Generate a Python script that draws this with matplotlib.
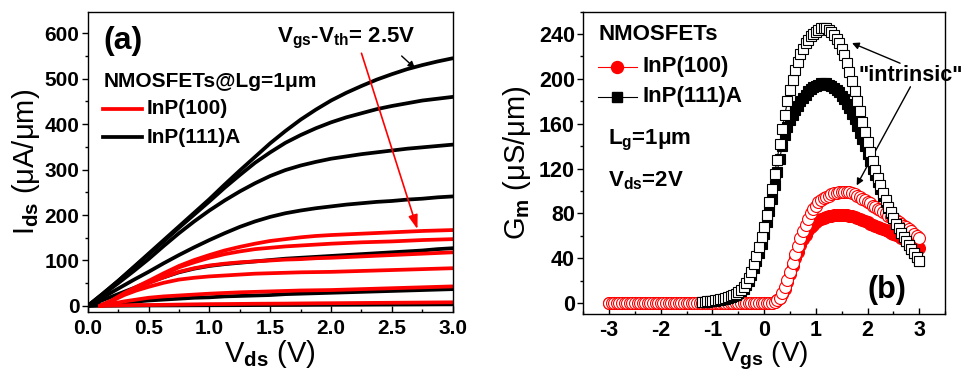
import numpy as np
import matplotlib
matplotlib.use("Agg")
import matplotlib.pyplot as plt
from matplotlib.ticker import MultipleLocator

plt.rcParams.update({
    "font.family": ["Liberation Sans", "DejaVu Sans"],
    "font.weight": "bold",
    "mathtext.fontset": "custom",
    "mathtext.rm": "Liberation Sans:bold",
    "mathtext.it": "Liberation Sans:bold",
    "mathtext.bf": "Liberation Sans:bold",
    "axes.linewidth": 1.0,
    "axes.unicode_minus": False,
})

# ---------------- (a) output characteristics ----------------
vds_111 = [0, 0.125, 0.25, 0.375, 0.5, 0.625, 0.75, 0.875, 1.0, 1.125, 1.25,
           1.375, 1.5, 1.625, 1.75, 1.875, 2.0, 2.125, 2.25, 2.375, 2.5,
           2.625, 2.75, 2.875, 3.0]
ids_111 = [
    [0, 27, 55, 85, 115, 145, 175, 205, 235, 267, 298, 328, 358, 385, 410,
     432, 452, 469, 484, 498, 510, 521, 530, 538, 545],
    [0, 27, 55, 84, 113, 142, 172, 201, 230, 260, 288, 315, 338, 359, 376,
     391, 404, 415, 424, 433, 440, 446, 452, 456, 460],
    [0, 25, 50, 76, 103, 132, 160, 186, 210, 232, 252, 270, 286, 299, 309,
     317, 324, 329, 334, 338, 342, 346, 349, 352, 355],
    [0, 19, 38, 57, 75, 94, 112, 129, 145, 160, 174, 186, 196, 204, 210,
     215, 219, 223, 226, 229, 231, 234, 236, 239, 241],
    [0, 13, 26, 39, 52, 63, 74, 82, 88, 92, 95, 98, 101, 104, 106, 108, 110,
     112, 114, 116, 118, 120, 122, 125, 127],
    [0, 3, 6, 9, 12, 14, 16, 18, 19, 21, 22, 23, 24, 26, 27, 28, 29, 30, 31,
     32, 33, 34, 35, 36, 37],
    [0, 0.3, 0.5, 0.7, 1, 1.1, 1.2, 1.4, 1.5, 1.6, 1.7, 1.9, 2, 2.1, 2.2, 2.4,
     2.5, 2.6, 2.7, 2.9, 3, 3.1, 3.2, 3.4, 3.5],
]
vds_100 = [0.1, 0.2, 0.3, 0.4, 0.5, 0.625, 0.75, 0.875, 1.0, 1.125, 1.25,
           1.375, 1.5, 1.625, 1.75, 1.875, 2.0, 2.25, 2.5, 2.75, 3.0]
ids_100 = [
    [0, 12, 28, 42, 55, 72, 88, 101, 112, 122, 130, 137, 143, 147, 151, 154,
     156, 159, 162, 165, 167],
    [0, 12, 28, 41, 53, 69, 85, 96, 106, 114, 120, 125, 128, 131, 133, 135,
     137, 140, 142, 145, 147],
    [0, 12, 27, 39, 50, 63, 75, 83, 89, 93, 96, 98, 100, 102, 103, 105, 106,
     109, 112, 115, 118],
    [0, 11, 24, 34, 42, 51, 58, 62, 65, 67, 69, 71, 72, 73, 74, 74.5, 75, 77,
     79, 81, 83],
    [0, 5, 10, 14, 18, 21, 23, 25, 27, 28.5, 30, 31, 32, 33, 34, 34.5, 35, 37,
     39, 41, 43],
    [0, 1, 1.5, 2, 2, 2.5, 3, 3.5, 4, 4.2, 4.5, 4.8, 5, 5.2, 5.5, 5.8, 6, 6.5,
     7, 7.5, 8],
]

# ---------------- (b) transconductance ----------------
vgs_100 = np.round(np.arange(-3.0, 3.0001, 0.05), 2)
gm_100_ext = (
    [0.0] * 63 +
    [0.3, 1, 2.5, 5, 8.5, 13, 19, 26, 33, 40, 46, 52, 57, 61, 65, 68, 70, 72,
     74, 75, 76, 77, 78, 78, 79, 79, 79, 79, 79, 79, 78, 78, 77, 76, 75, 74,
     73, 72, 71, 70, 69, 68, 67, 66, 65, 64, 63, 62, 61, 60, 58, 57, 56, 55,
     53, 52, 50, 49]
)
gm_100_int = (
    [0.0] * 63 +
    [0.3, 1, 2.5, 5, 9, 14, 21, 28, 36, 44, 51, 58, 64, 70, 75, 80, 84, 87,
     90, 92, 94, 95, 96, 97, 98, 98, 99, 99, 99, 99, 99, 98, 97, 96, 95, 93,
     92, 90, 89, 87, 86, 84, 83, 81, 80, 78, 77, 75, 74, 72, 71, 69, 68, 66,
     64, 62, 60, 58]
)
vgs_111 = np.round(np.arange(-1.2, 3.0001, 0.05), 2)
gm_111_ext = [
    0.8, 1.0, 1.2, 1.5, 1.8, 2.1, 2.5, 3.0, 3.5, 4.0, 4.7, 5.4, 6.2, 7.4, 8.8,
    10.5, 12.5, 16, 20, 25, 31, 38, 45, 53, 62, 72, 82, 93, 105, 117, 129, 140,
    150, 157, 163, 168, 172, 176, 180, 183, 186, 189, 191, 193, 194, 195, 196,
    196, 196, 195, 194, 192, 190, 188, 185, 182, 178, 174, 169, 164, 158, 152,
    146, 140, 133, 127, 120, 114, 108, 102, 96, 90, 85, 80, 76, 71, 67, 63, 59,
    55, 52, 48, 45, 41, 38,
]
gm_111_int = [
    1.0, 1.2, 1.5, 1.8, 2.2, 2.6, 3.0, 3.5, 4.0, 4.7, 5.5, 6.3, 7.2, 8.5, 10,
    12, 14, 18, 22, 28, 35, 42, 50, 59, 68, 79, 90, 102, 115, 128, 142, 155,
    168, 180, 190, 199, 208, 215, 222, 227, 232, 235, 238, 240, 242, 244, 245,
    245, 245, 244, 242, 239, 236, 232, 227, 221, 214, 206, 198, 189, 180, 171,
    162, 153, 144, 135, 127, 119, 112, 105, 98, 92, 86, 81, 76, 71, 67, 63, 59,
    55, 52, 48, 45, 41, 38,
]

RED = "#ff0000"
BLACK = "#000000"
SQ = 6.8
CI = 8.6

fig = plt.figure(figsize=(9.67, 3.76), dpi=100)

# ================= panel (a) =================
axa = fig.add_axes([0.0907, 0.1694, 0.3775, 0.7977])
for curve in ids_111:
    axa.plot(vds_111, curve, color=BLACK, lw=2.7, solid_capstyle="round",
             solid_joinstyle="round")
for curve in ids_100:
    axa.plot(vds_100, curve, color=RED, lw=2.7, solid_capstyle="round",
             solid_joinstyle="round")

axa.set_xlim(0, 3.0)
axa.set_ylim(-14, 646)
axa.xaxis.set_major_locator(MultipleLocator(0.5))
axa.xaxis.set_minor_locator(MultipleLocator(0.25))
axa.yaxis.set_major_locator(MultipleLocator(100))
axa.yaxis.set_minor_locator(MultipleLocator(50))
axa.tick_params(axis="x", which="both", direction="in", labelsize=15, pad=5)
axa.tick_params(axis="y", which="both", direction="out", labelsize=15, pad=2)
axa.tick_params(which="major", length=4, width=1)
axa.tick_params(which="minor", length=2.5, width=1)
axa.set_xticks([0, 0.5, 1.0, 1.5, 2.0, 2.5, 3.0],
               ["0.0", "0.5", "1.0", "1.5", "2.0", "2.5", "3.0"])
axa.set_xlabel(r"V$_{ds}$ (V)", fontsize=21, labelpad=0)
axa.set_ylabel(r"I$_{ds}$ (μA/μm)", fontsize=21, labelpad=2)

axa.text(0.043, 0.905, "(a)", transform=axa.transAxes, fontsize=23,
         va="center", ha="left")
axa.text(0.043, 0.769, "NMOSFETs@Lg=1μm", transform=axa.transAxes,
         fontsize=15, va="center", ha="left")
axa.plot([0.043, 0.148], [0.679, 0.679], transform=axa.transAxes,
         color=RED, lw=2.7)
axa.plot([0.043, 0.148], [0.584, 0.584], transform=axa.transAxes,
         color=BLACK, lw=2.7)
axa.text(0.161, 0.679, "InP(100)", transform=axa.transAxes, fontsize=15,
         va="center", ha="left")
axa.text(0.161, 0.584, "InP(111)A", transform=axa.transAxes, fontsize=15,
         va="center", ha="left")
axa.text(0.518, 0.914, r"V$_{gs}$-V$_{th}$= 2.5V", transform=axa.transAxes,
         fontsize=16, va="center", ha="left")
axa.annotate("", xy=(2.69, 523), xytext=(2.58, 550),
             arrowprops=dict(arrowstyle="-|>", color=BLACK, lw=1.0,
                             mutation_scale=10, shrinkA=0, shrinkB=0))
axa.annotate("", xy=(2.71, 169), xytext=(2.25, 556),
             arrowprops=dict(arrowstyle="-|>,head_length=0.6,head_width=0.2",
                             color=RED, lw=1.2, mutation_scale=14,
                             shrinkA=0, shrinkB=0))

# ================= panel (b) =================
axb = fig.add_axes([0.6032, 0.164, 0.3741, 0.805])
axb.plot(vgs_100, gm_100_ext, color=RED, lw=0.8, marker="o", ms=CI,
         mfc=RED, mec=RED, mew=0.8, zorder=2)
axb.plot(vgs_100, gm_100_int, color=RED, lw=0.8, marker="o", ms=CI,
         mfc="white", mec=RED, mew=0.8, zorder=3)
axb.plot(vgs_111, gm_111_ext, color=BLACK, lw=0.8, marker="s", ms=SQ,
         mfc=BLACK, mec=BLACK, mew=0.8, zorder=4)
axb.plot(vgs_111, gm_111_int, color=BLACK, lw=0.8, marker="s", ms=SQ,
         mfc="white", mec=BLACK, mew=0.8, zorder=5)

axb.set_xlim(-3.5, 3.5)
axb.set_ylim(-10, 260)
axb.xaxis.set_major_locator(MultipleLocator(1))
axb.xaxis.set_minor_locator(MultipleLocator(0.5))
axb.yaxis.set_major_locator(MultipleLocator(40))
axb.yaxis.set_minor_locator(MultipleLocator(20))
axb.tick_params(axis="x", which="both", direction="in", labelsize=15.5, pad=4)
axb.tick_params(axis="y", which="both", direction="out", labelsize=15.5, pad=2)
axb.tick_params(which="major", length=4, width=1)
axb.tick_params(which="minor", length=2.5, width=1)
axb.set_xlabel(r"V$_{gs}$ (V)", fontsize=20, labelpad=-1)
axb.set_ylabel(r"G$_{m}$ (μS/μm)", fontsize=21, labelpad=4)

axb.text(0.0415, 0.925, "NMOSFETs", transform=axb.transAxes, fontsize=16,
         va="center", ha="left")
axb.plot([0.041, 0.149], [0.818, 0.818], transform=axb.transAxes,
         color=RED, lw=0.8)
axb.plot([0.093], [0.818], transform=axb.transAxes, marker="o", ms=CI,
         color=RED, mec=RED)
axb.plot([0.041, 0.149], [0.719, 0.719], transform=axb.transAxes,
         color=BLACK, lw=0.8)
axb.plot([0.093], [0.719], transform=axb.transAxes, marker="s", ms=SQ,
         color=BLACK)
axb.text(0.165, 0.818, "InP(100)", transform=axb.transAxes, fontsize=16,
         va="center", ha="left")
axb.text(0.165, 0.719, "InP(111)A", transform=axb.transAxes, fontsize=16,
         va="center", ha="left")
axb.text(0.068, 0.573, r"L$_{g}$=1μm", transform=axb.transAxes, fontsize=16,
         va="center", ha="left")
axb.text(0.068, 0.44, r"V$_{ds}$=2V", transform=axb.transAxes, fontsize=16,
         va="center", ha="left")
axb.text(0.787, 0.08, "(b)", transform=axb.transAxes, fontsize=22,
         va="center", ha="left")
axb.text(0.762, 0.79, "\"intrinsic\"", transform=axb.transAxes, fontsize=15.5,
         va="center", ha="left", clip_on=False)
axb.annotate("", xy=(1.70, 232), xytext=(2.63, 214),
             arrowprops=dict(arrowstyle="-|>", color=BLACK, lw=1.0,
                             mutation_scale=10, shrinkA=0, shrinkB=0))
axb.annotate("", xy=(1.79, 105), xytext=(2.83, 193),
             arrowprops=dict(arrowstyle="-|>", color=BLACK, lw=1.0,
                             mutation_scale=10, shrinkA=0, shrinkB=0))

fig.savefig("out.png", dpi=100)
